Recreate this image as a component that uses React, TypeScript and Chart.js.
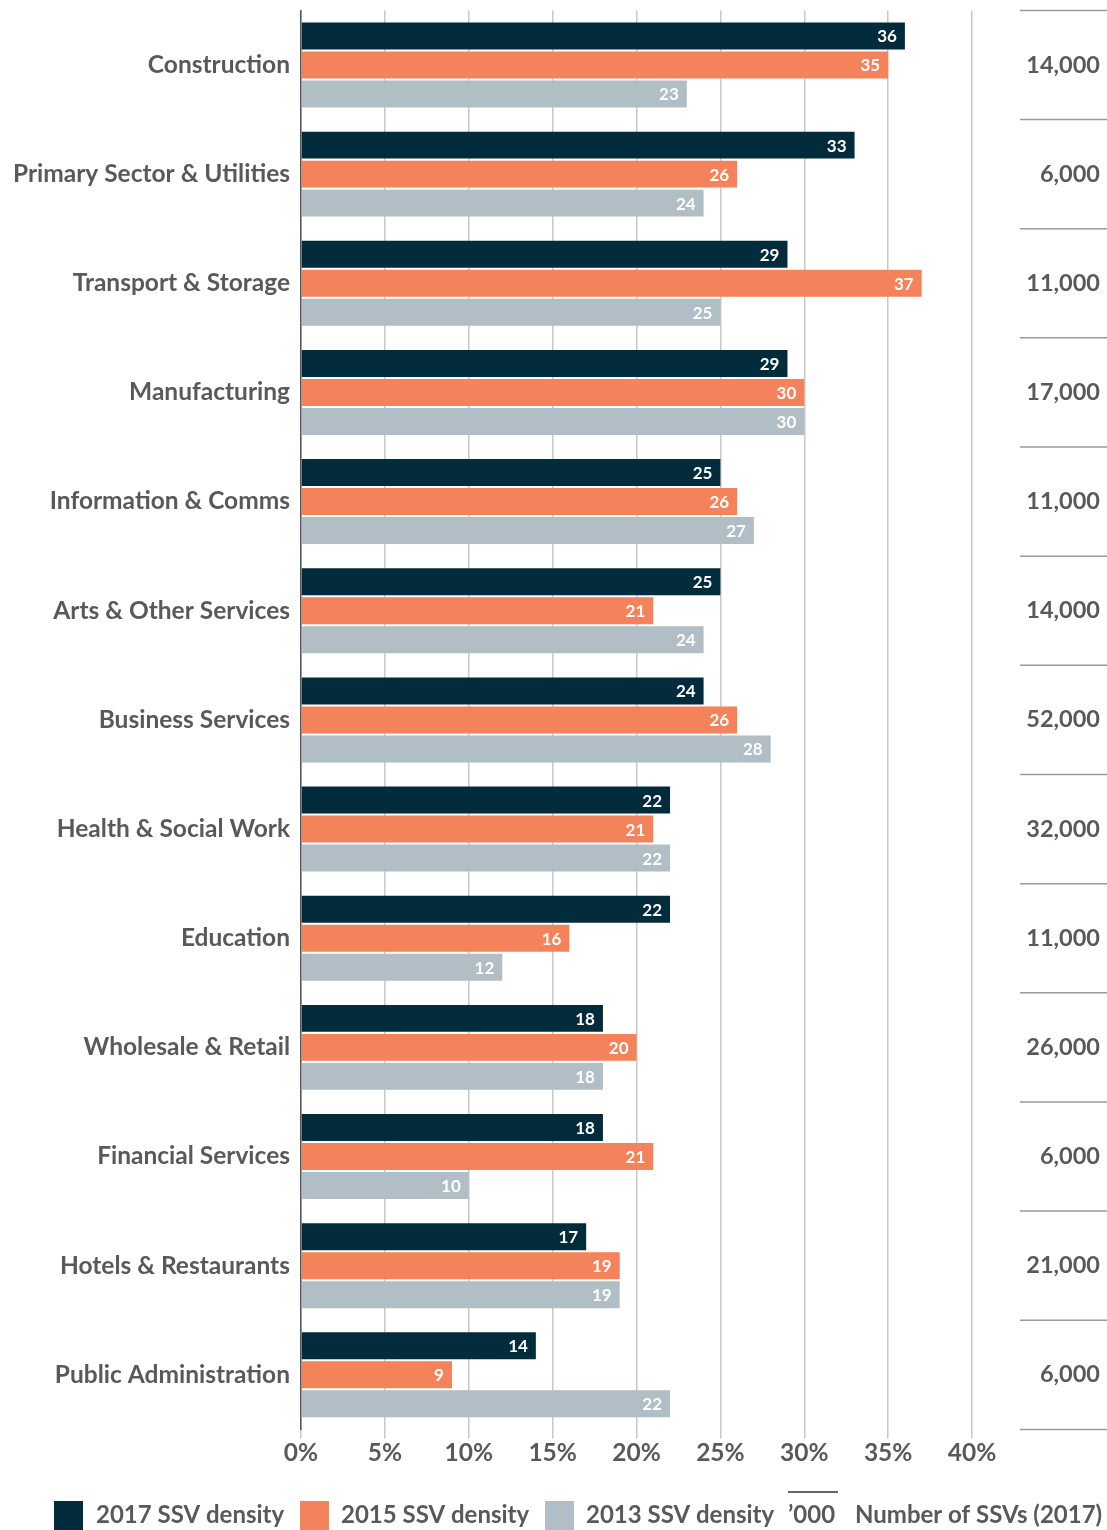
import React, { useEffect, useRef } from "react";
import { Chart, registerables } from "chart.js";

Chart.register(...registerables);

const categories = [
  "Construction",
  "Primary Sector & Utilities",
  "Transport & Storage",
  "Manufacturing",
  "Information & Comms",
  "Arts & Other Services",
  "Business Services",
  "Health & Social Work",
  "Education",
  "Wholesale & Retail",
  "Financial Services",
  "Hotels & Restaurants",
  "Public Administration",
];
const density2017 = [36, 33, 29, 29, 25, 25, 24, 22, 22, 18, 18, 17, 14];
const density2015 = [35, 26, 37, 30, 26, 21, 26, 21, 16, 20, 21, 19, 9];
const density2013 = [23, 24, 25, 30, 27, 24, 28, 22, 12, 18, 10, 19, 22];
const ssvCounts = [
  "14,000", "6,000", "11,000", "17,000", "11,000", "14,000", "52,000",
  "32,000", "11,000", "26,000", "6,000", "21,000", "6,000",
];
const seriesLabels = ["2017 SSV density", "2015 SSV density", "2013 SSV density"];
const unitLabel = "’000";
const countLabel = "Number of SSVs (2017)";

const COLORS = ["#022c3b", "#f4825a", "#b1bec6"];
const TEXT = "#58595b";
const FONT = "Lato, 'Open Sans', sans-serif";

export default function App() {
  const ref = useRef<HTMLCanvasElement>(null);

  useEffect(() => {
    if (!ref.current) return;
    const overlay = {
      id: "overlay",
      afterDatasetsDraw(chart: any) {
        const ctx = chart.ctx;
        ctx.save();
        ctx.font = `bold 17px ${FONT}`;
        ctx.fillStyle = "#ffffff";
        ctx.textAlign = "right";
        ctx.textBaseline = "middle";
        chart.data.datasets.forEach((ds: any, di: number) => {
          const meta = chart.getDatasetMeta(di);
          meta.data.forEach((el: any, i: number) => {
            ctx.fillText(String(ds.data[i]), el.x - 8, el.y + 1);
          });
        });
        ctx.restore();
      },
      afterDraw(chart: any) {
        const ctx = chart.ctx;
        const ys = chart.scales.y;
        const area = chart.chartArea;
        ctx.save();
        ctx.strokeStyle = "#9a9a9a";
        ctx.lineWidth = 1.5;
        const n = categories.length;
        for (let i = 0; i <= n; i++) {
          let y: number;
          if (i === 0) y = area.top;
          else if (i === n) y = area.bottom;
          else y = (ys.getPixelForValue(i - 1) + ys.getPixelForValue(i)) / 2;
          ctx.beginPath();
          ctx.moveTo(1020, y);
          ctx.lineTo(1107, y);
          ctx.stroke();
        }
        ctx.font = `bold 23.5px ${FONT}`;
        ctx.fillStyle = TEXT;
        ctx.textAlign = "right";
        ctx.textBaseline = "middle";
        ssvCounts.forEach((c, i) => {
          ctx.fillText(c, 1100, ys.getPixelForValue(i));
        });
        const ly = 1515;
        const items = [
          { sx: 54, tx: 96 },
          { sx: 300, tx: 341 },
          { sx: 545, tx: 586 },
        ];
        ctx.font = `bold 24px ${FONT}`;
        ctx.textAlign = "left";
        items.forEach((it, i) => {
          ctx.fillStyle = COLORS[i];
          ctx.fillRect(it.sx, 1501, 29, 29);
          ctx.fillStyle = TEXT;
          ctx.fillText(seriesLabels[i], it.tx, ly);
        });
        ctx.fillStyle = TEXT;
        ctx.fillText(unitLabel, 788, ly);
        ctx.strokeStyle = "#333";
        ctx.lineWidth = 1.5;
        ctx.beginPath();
        ctx.moveTo(788, 1492);
        ctx.lineTo(838, 1492);
        ctx.stroke();
        ctx.fillText(countLabel, 855, ly);
        ctx.restore();
      },
    };

    const chart = new Chart(ref.current, {
      type: "bar",
      data: {
        labels: categories,
        datasets: [density2017, density2015, density2013].map((d, i) => ({
          label: seriesLabels[i],
          data: d,
          backgroundColor: COLORS[i],
          borderWidth: 0,
          categoryPercentage: 0.797,
          barPercentage: 0.93,
        })),
      },
      options: {
        indexAxis: "y",
        responsive: false,
        animation: false,
        layout: { padding: { top: 10.4, right: 135, left: 0, bottom: 0 } },
        plugins: {
          legend: { display: false },
          tooltip: { enabled: false },
        },
        scales: {
          x: {
            min: 0,
            max: 40,
            position: "bottom",
            ticks: {
              stepSize: 5,
              callback: (v: any) => `${v}%`,
              font: { family: FONT, size: 24.5, weight: "bold" },
              color: TEXT,
              padding: 0,
              maxRotation: 0,
            },
            grid: { color: "#c8c8c8", lineWidth: 1.5, tickLength: 9, drawTicks: true },
            border: { display: false },
            afterFit: (s: any) => {
              s.height = 100.6;
            },
          },
          y: {
            grid: { display: false, drawTicks: false },
            border: { display: true, color: "#555555", width: 1.5 },
            ticks: {
              font: { family: FONT, size: 24.5, weight: "bold" },
              color: TEXT,
              padding: 11,
            },
            afterFit: (s: any) => {
              s.width = 301;
              s.paddingTop = 0;
              s.paddingBottom = 0;
            },
          },
        },
      },
      plugins: [overlay],
    } as any);
    return () => chart.destroy();
  }, []);

  return (
    <div style={{ position: "absolute", left: 0, top: 0, width: 1107, height: 1530 }}>
      <canvas ref={ref} width={1107} height={1530} style={{ width: 1107, height: 1530, display: "block" }} />
    </div>
  );
}
